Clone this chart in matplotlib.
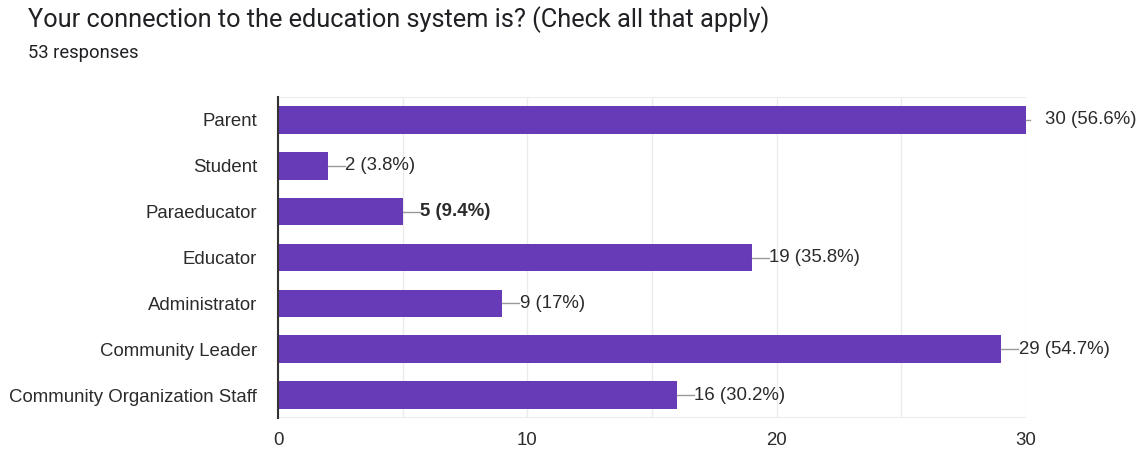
import matplotlib.pyplot as plt

# =========================================================
# DATA
# =========================================================

categories = [
    "Parent",
    "Student",
    "Paraeducator",
    "Educator",
    "Administrator",
    "Community Leader",
    "Community Organization Staff",
]
counts = [30, 2, 5, 19, 9, 29, 16]
labels = ["30 (56.6%)", "2 (3.8%)", "5 (9.4%)", "19 (35.8%)",
          "9 (17%)", "29 (54.7%)", "16 (30.2%)"]
bold_label = "Paraeducator"

x_ticks = [0, 10, 20, 30]

# =========================================================
# FIGURE
# =========================================================

plt.rcParams["font.family"] = ["Liberation Sans", "DejaVu Sans"]

fig = plt.figure(figsize=(11.42, 4.5), dpi=100)
ax = fig.add_axes([278 / 1142, 1 - 418 / 450, (1026 - 278) / 1142, (418 - 97) / 450])

bar_color = "#673ab7"
text_color = "#2b2b2b"

y = list(range(len(categories)))
ax.barh(y, counts, height=0.6, color=bar_color, zorder=3)

ax.set_ylim(len(categories) - 0.5, -0.5)
ax.set_xlim(0, 30)

# gridlines every 5
for gx in range(0, 31, 5):
    ax.axvline(gx, color="#ebebeb", lw=1, zorder=1)
ax.axhline(-0.5, color="#ebebeb", lw=1.5, zorder=1)
ax.axhline(len(categories) - 0.5, color="#ebebeb", lw=1.5, zorder=1)

for s in ["top", "right", "bottom"]:
    ax.spines[s].set_visible(False)
ax.spines["left"].set_color("#333333")
ax.spines["left"].set_linewidth(1.5)
ax.spines["left"].set_zorder(4)

ax.set_yticks(y)
ax.set_yticklabels(categories, fontsize=13.4, color=text_color)
ax.set_xticks(x_ticks)
ax.set_xticklabels([str(t) for t in x_ticks], fontsize=13.4, color=text_color)
ax.tick_params(axis="both", length=0)
ax.tick_params(axis="y", pad=15)
ax.tick_params(axis="x", pad=10)

# value labels with connector lines
for i, (c, lab, cat) in enumerate(zip(counts, labels, categories)):
    if c >= 30:
        ax.plot([c, c + 0.15], [i, i], color="#999999", lw=1, zorder=4, clip_on=False)
        tx = c + 0.75
    else:
        ax.plot([c, c + 0.68], [i, i], color="#999999", lw=1, zorder=4, clip_on=False)
        tx = c + 0.7
    ax.text(tx, i, lab, va="center", ha="left", fontsize=13.4, color=text_color,
            fontweight="bold" if cat == bold_label else "normal", clip_on=False)

# =========================================================
# TITLE
# =========================================================

fig.text(28 / 1142, 1 - 20 / 450, "Your connection to the education system is? (Check all that apply)",
         fontsize=18.3, color="#202124", va="center", ha="left", family=["Roboto", "DejaVu Sans"])
fig.text(28 / 1142, 1 - 53 / 450, "53 responses",
         fontsize=13.2, color="#202124", va="center", ha="left", family=["Roboto", "DejaVu Sans"])

fig.savefig("out.png", dpi=100)
